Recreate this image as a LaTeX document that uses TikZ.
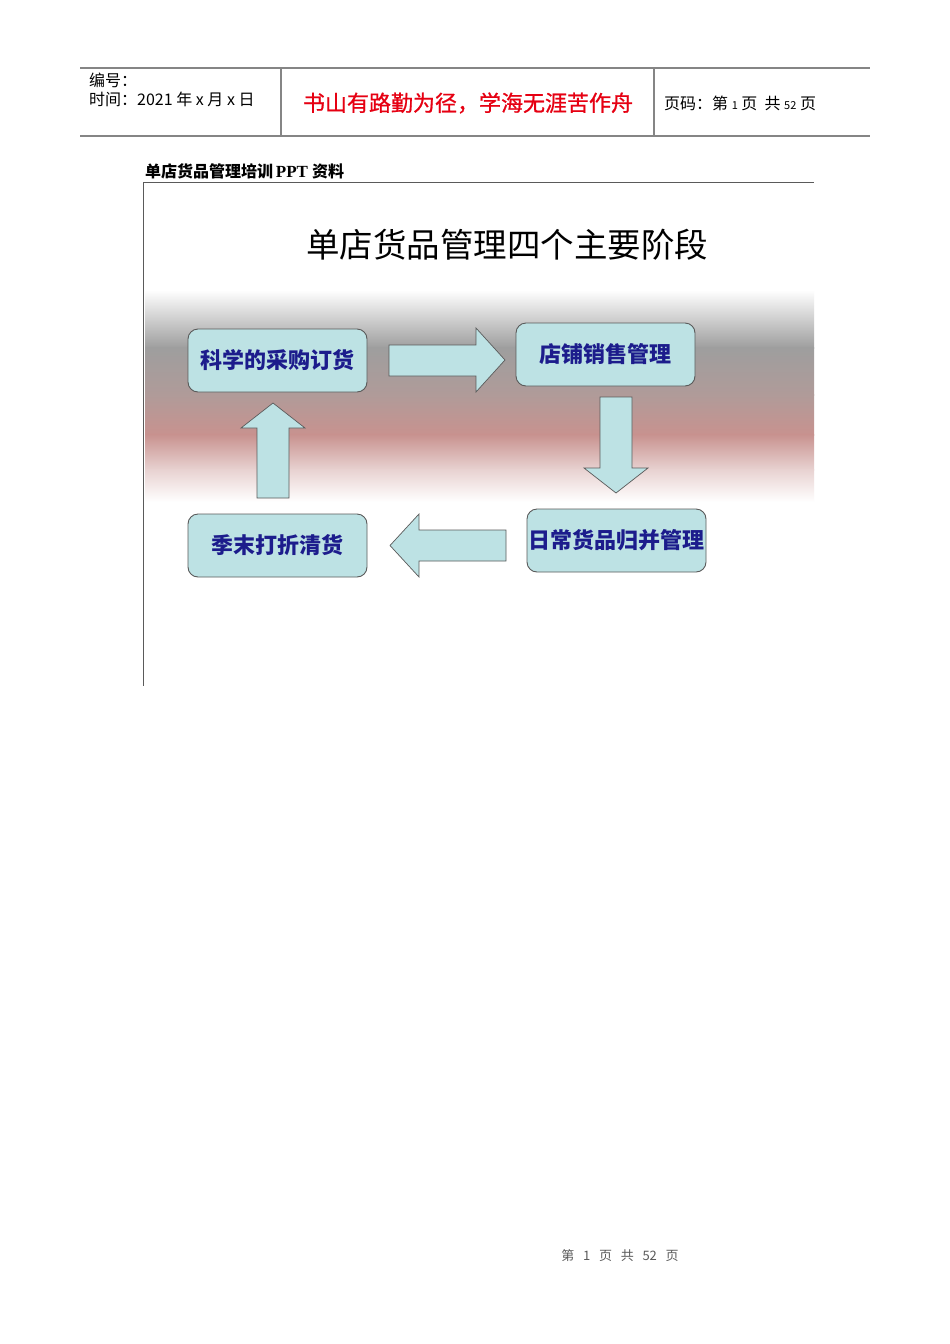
\documentclass[tikz,border=0pt]{standalone}
\usepackage{fontspec}
\setmainfont{Noto Sans CJK SC}
\newfontfamily\cjk{Noto Sans CJK SC}
\newfontfamily\cjkmid[FakeBold=0.9]{Noto Sans CJK SC}
\newfontfamily\tnr{Liberation Serif}
\newfontfamily\sans{Liberation Sans}
\usetikzlibrary{positioning}
\definecolor{boxfill}{HTML}{BDE2E4}
\definecolor{boxtext}{HTML}{1C1C8C}
\definecolor{edgegrey}{HTML}{5A5A5A}
\definecolor{hdrline}{HTML}{858585}
\definecolor{redtext}{HTML}{E60012}
\definecolor{gA}{HTML}{9E9E9E}
\definecolor{gB}{HTML}{B09B99}
\definecolor{gC}{HTML}{C8928F}
\definecolor{gD}{HTML}{E8D2D1}
\tikzset{
  stagebox/.style={draw=edgegrey, line width=0.9pt, fill=boxfill, rounded corners=10pt,
    minimum width=179pt, minimum height=63pt, inner sep=0pt,
    text=boxtext, font=\cjk\bfseries\fontsize{22}{26}\selectfont},
  blockarrow/.style={draw=edgegrey, line width=0.7pt, fill=boxfill},
  hdrrule/.style={draw=hdrline, line width=1.3pt},
  framerule/.style={draw=edgegrey, line width=0.9pt},
  hdrtext/.style={inner sep=0pt, anchor=west, font=\cjk\fontsize{16}{18}\selectfont}
}
\begin{document}
\begin{tikzpicture}[x=1pt,y=-1pt]
\useasboundingbox (0,0) rectangle (950,1344);
\fill[white] (0,0) rectangle (950,1344);

% header table
\draw[hdrrule] (80,68) -- (870,68);
\draw[hdrrule] (80,136) -- (870,136);
\draw[hdrrule] (281,68) -- (281,136);
\draw[hdrrule] (654,68) -- (654,136);
\node[hdrtext] (num) at (89,80) {编号：};
\node[hdrtext] (time) at (89,99) {时间：2021\ 年\ x\ 月\ x\ 日};
\node[inner sep=0pt, text=redtext, font=\cjkmid\fontsize{22}{25}\selectfont] (motto) at (468,103) {书山有路勤为径，学海无涯苦作舟};
\node[hdrtext] (page) at (664,103) {页码：第\ {\fontsize{11}{12}\selectfont 1}\ 页\ \ 共\ {\fontsize{11}{12}\selectfont 52}\ 页};

% caption
\node[inner sep=0pt, anchor=west, font=\cjk\bfseries\fontsize{16}{18}\selectfont] (caption) at (145,171) {单店货品管理培训\,{\tnr\bfseries\fontsize{17}{18}\selectfont PPT }资料};

% gradient band
\shade[top color=white, bottom color=gA] (145,290) rectangle (814,348);
\shade[top color=gA, bottom color=gB] (145,347.5) rectangle (814,395);
\shade[top color=gB, bottom color=gC] (145,394.5) rectangle (814,435);
\shade[top color=gC, bottom color=gD] (145,434.5) rectangle (814,470);
\shade[top color=gD, bottom color=white] (145,469.5) rectangle (814,502);

% slide frame
\draw[framerule] (143,182) -- (814,182);
\draw[framerule] (143,182) -- (143,686);

% title
\node[inner sep=0pt, font=\cjk\fontsize{33.5}{38}\selectfont] (title) at (507,245) {单店货品管理四个主要阶段};

% stage boxes
\node[stagebox] (s1) at (277.5,360.5) {科学的采购订货};
\node[stagebox] (s2) at (605.5,354.5) {店铺销售管理};
\node[stagebox] (s3) at (616.5,540.5) {日常货品归并管理};
\node[stagebox] (s4) at (277.5,545.5) {季末打折清货};

% block arrows
\draw[blockarrow] (389,345) -- (476,345) -- (476,328) -- (505,360) -- (476,392) -- (476,376) -- (389,376) -- cycle;
\draw[blockarrow] (600,397) -- (632,397) -- (632,468) -- (648,468) -- (616,493) -- (584,468) -- (600,468) -- cycle;
\draw[blockarrow] (506,530) -- (419,530) -- (419,514) -- (390,545.5) -- (419,577) -- (419,561) -- (506,561) -- cycle;
\draw[blockarrow] (257,498) -- (289,498) -- (289,428) -- (305,428) -- (273,403) -- (241,428) -- (257,428) -- cycle;

% footer
\node[inner sep=0pt, text=edgegrey, font=\cjk\fontsize{13}{15}\selectfont] (footer) at (620,1256) {第\ \ \ 1\ \ \ 页\ \ \ 共\ \ \ 52\ \ \ 页};
\end{tikzpicture}
\end{document}
